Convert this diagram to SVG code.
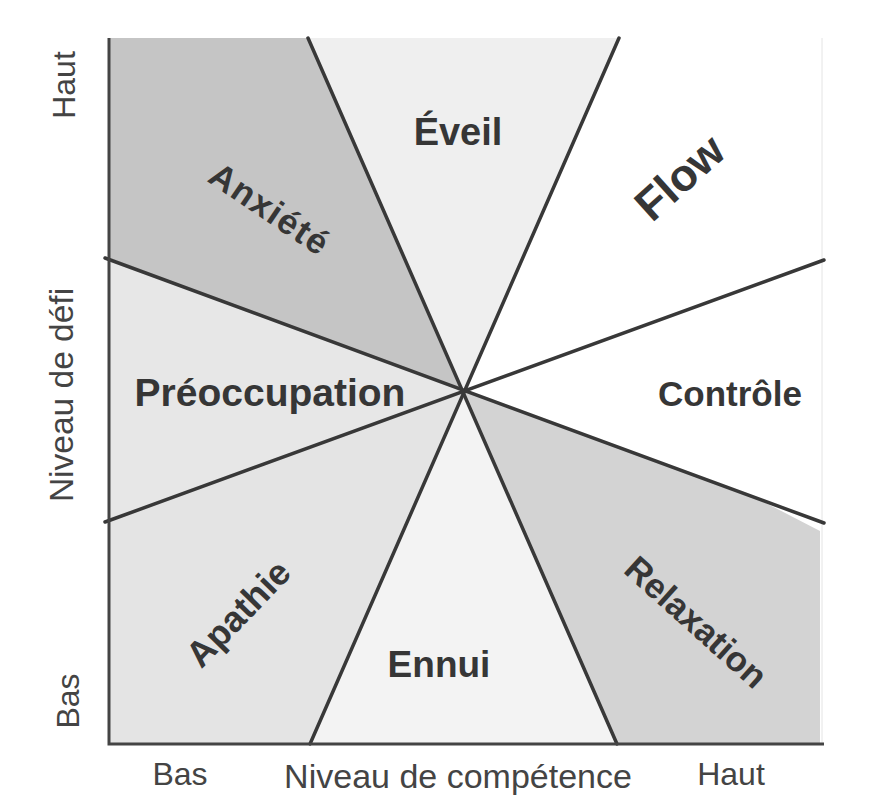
<svg xmlns="http://www.w3.org/2000/svg" width="883" height="800" viewBox="0 0 883 800">
<style>
.lbl{font-family:"Liberation Sans",Arial,sans-serif;font-weight:bold;fill:#363636;text-anchor:middle}
.ax{font-family:"Liberation Sans",Arial,sans-serif;fill:#444;text-anchor:middle}
.div{stroke:#383838;stroke-width:3.5;stroke-linecap:round;fill:none}
</style>
<rect width="883" height="800" fill="#fff"/>
<g id="regions">
<g id="anxiete"><polygon points="109,38 308,38 463,391 109,258" fill="#c5c5c5"/><text class="lbl" font-size="35" letter-spacing="1.5" transform="translate(263,219) rotate(34)">Anxiété</text></g>
<g id="eveil"><polygon points="308,38 619,38 463,391" fill="#efefef"/><text class="lbl" font-size="38" x="458" y="145">Éveil</text></g>
<g id="flow"><text class="lbl" font-size="45" transform="translate(690,189) rotate(-42)">Flow</text></g>
<g id="preoccupation"><polygon points="109,258 463,391 109,521" fill="#e7e7e7"/><text class="lbl" font-size="39" x="270" y="406">Préoccupation</text></g>
<g id="controle"><text class="lbl" font-size="35" x="730" y="406">Contrôle</text></g>
<g id="apathie"><polygon points="109,521 463,391 310,744 109,744" fill="#e4e4e4"/><text class="lbl" font-size="36" transform="translate(247,622) rotate(-46)">Apathie</text></g>
<g id="ennui"><polygon points="310,744 617,744 463,391" fill="#f3f3f3"/><text class="lbl" font-size="37" x="439" y="677">Ennui</text></g>
<g id="relaxation"><polygon points="463,391 760,500 820,531 820,744 617,744" fill="#d3d3d3"/><text class="lbl" font-size="35" transform="translate(688,631) rotate(42)">Relaxation</text></g>
</g>
<line x1="822" y1="38" x2="822" y2="744" stroke="#e4e4e4" stroke-width="1"/>
<g id="connectors">
<line class="div" x1="308" y1="38" x2="617" y2="744"/>
<line class="div" x1="619" y1="38" x2="310" y2="744"/>
<line class="div" x1="105" y1="258" x2="824" y2="523"/>
<line class="div" x1="105" y1="522" x2="824" y2="260"/>
</g>
<g id="axes">
<polyline points="109,38 109,744 824,744" fill="none" stroke="#444" stroke-width="3"/>
<text class="ax" font-size="32" x="180" y="785">Bas</text>
<text class="ax" font-size="34" x="458" y="788">Niveau de compétence</text>
<text class="ax" font-size="32" x="731" y="785">Haut</text>
<text class="ax" font-size="32" transform="translate(75,85) rotate(-90)">Haut</text>
<text class="ax" font-size="33.5" transform="translate(73,395) rotate(-90)">Niveau de défi</text>
<text class="ax" font-size="32" transform="translate(79,701) rotate(-90)">Bas</text>
</g>
</svg>
